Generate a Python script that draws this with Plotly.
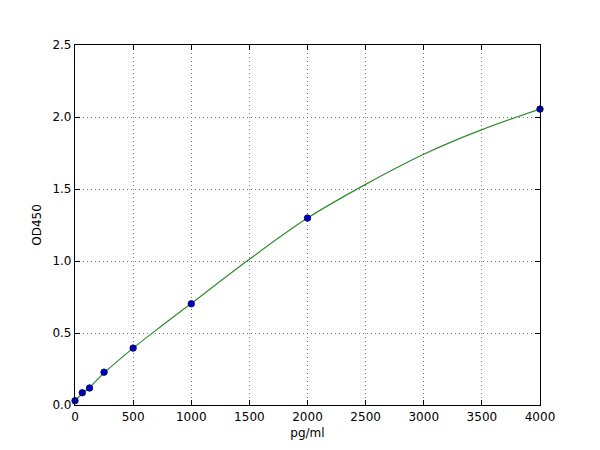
import plotly.graph_objects as go

# measured standards
conc = [0, 62.5, 125, 250, 500, 1000, 2000, 4000]
od = [0.03, 0.085, 0.118, 0.228, 0.395, 0.703, 1.298, 2.055]

# fitted curve
fit_conc = [0, 62.5, 125, 250, 500, 750, 1000, 1500, 2000, 2500, 3000, 3500, 4000]
fit_od = [0.03, 0.078, 0.122, 0.222, 0.395, 0.552, 0.705, 1.012, 1.298, 1.532, 1.741, 1.912, 2.055]

x_ticks = [0, 500, 1000, 1500, 2000, 2500, 3000, 3500, 4000]
y_ticks = [0.0, 0.5, 1.0, 1.5, 2.0, 2.5]
y_tick_text = ["0.0", "0.5", "1.0", "1.5", "2.0", "2.5"]

fig = go.Figure()
fig.add_trace(go.Scatter(x=fit_conc, y=fit_od, mode="lines", line=dict(color="#2e8b2e", width=1.2, shape="spline", smoothing=1.0), hoverinfo="skip", showlegend=False, cliponaxis=False))
fig.add_trace(go.Scatter(x=conc, y=od, mode="markers", marker=dict(color="#0000c0", size=6.5, line=dict(color="#000050", width=0.8)), showlegend=False, cliponaxis=False))

axis_common = dict(showline=True, linecolor="black", linewidth=1.2, mirror="ticks", ticks="inside", ticklen=5, tickcolor="black", showgrid=True, gridcolor="#777777", griddash="1px,3px", gridwidth=1, zeroline=False, tickfont=dict(family="DejaVu Sans", size=12, color="black"))

fig.update_xaxes(range=[0, 4000], tickvals=x_ticks, title=dict(text="pg/ml", font=dict(family="DejaVu Sans", size=12, color="black"), standoff=6), **axis_common)
fig.update_yaxes(range=[0, 2.5], tickvals=y_ticks, ticktext=y_tick_text, title=dict(text="OD450", font=dict(family="DejaVu Sans", size=12, color="black"), standoff=8), **axis_common)

fig.update_layout(width=600, height=450, margin=dict(l=67, r=68, t=37, b=53), plot_bgcolor="white", paper_bgcolor="white", font=dict(family="DejaVu Sans"))

fig.write_html("out.html")
